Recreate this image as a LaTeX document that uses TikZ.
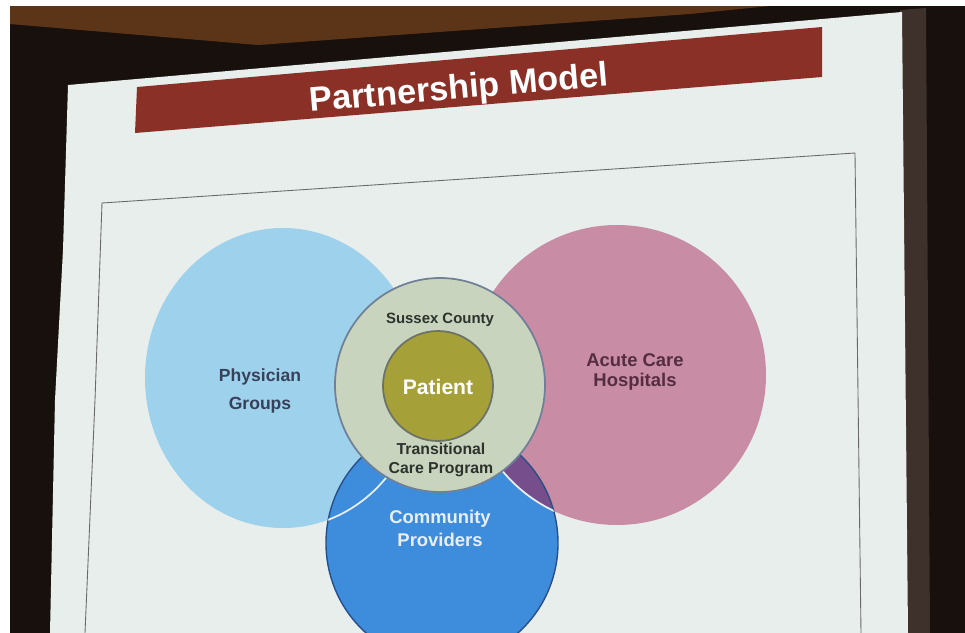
\documentclass[tikz,border=0pt]{standalone}
\usepackage{fontspec}
\setmainfont{Liberation Sans}
\usepackage{tikz}
\usetikzlibrary{positioning}

\definecolor{roomdark}{RGB}{24,16,13}
\definecolor{ceiling}{RGB}{92,52,24}
\definecolor{framegray}{RGB}{62,48,43}
\definecolor{screenwhite}{RGB}{232,238,236}
\definecolor{titlered}{RGB}{138,48,38}
\definecolor{boxgray}{RGB}{105,105,105}
\definecolor{physblue}{RGB}{158,210,236}
\definecolor{acutepink}{RGB}{200,140,165}
\definecolor{commblue}{RGB}{62,140,220}
\definecolor{commedge}{RGB}{40,80,135}
\definecolor{lensviolet}{RGB}{118,78,140}
\definecolor{ringwhite}{RGB}{232,238,245}
\definecolor{countygreen}{RGB}{200,212,190}
\definecolor{countyedge}{RGB}{112,128,150}
\definecolor{patientolive}{RGB}{166,160,56}
\definecolor{patientedge}{RGB}{108,114,104}
\definecolor{physink}{RGB}{55,65,90}
\definecolor{acuteink}{RGB}{85,45,65}
\definecolor{countyink}{RGB}{45,50,45}

\tikzset{
	lbl/.style={align=center, inner sep=0pt},
	ring/.style={line width=1pt}
}

\begin{document}
\begin{tikzpicture}[x=0.02cm, y=-0.02cm]
	\useasboundingbox (0,0) rectangle (965,633);
	% room around the screen
	\fill[roomdark] (0,0) rectangle (965,633);
	\fill[ceiling] (10,6) -- (770,6) -- (690,14) -- (258,45) -- (10,24) -- cycle;
	\fill[white] (0,0) rectangle (965,6);
	\fill[white] (0,0) rectangle (10,633);
	\fill[framegray] (900,10) -- (926,8) -- (930,633) -- (906,633) -- cycle;
	
	% the slide itself
	\fill[screenwhite] (68,85) -- (902,12) -- (908,633) -- (50,633) -- (55,400) -- (63,250) -- cycle;
	\fill[titlered] (137,87) -- (822,27) -- (822,77) -- (135,133) -- cycle;
	\node[text=white, font=\bfseries\fontsize{19.5}{22}\selectfont, rotate=5] (title) at (459,90) {Partnership Model};
	\draw[boxgray, line width=0.5pt] (85,633) -- (95,400) -- (102,203) -- (855,153) -- (861,633);
	
	% centres of the circles
	\coordinate (physc) at (283,378);
	\coordinate (acutec) at (617,375);
	\coordinate (commc) at (442,543);
	\coordinate (countyc) at (440,385);
	\coordinate (patc) at (438,386);
	
	\fill[physblue] (physc) ellipse [x radius=138, y radius=150];
	\fill[acutepink] (acutec) ellipse [x radius=149, y radius=150];
	\fill[commblue] (commc) ellipse [x radius=116, y radius=119];
	\begin{scope}
		\clip (acutec) ellipse [x radius=149, y radius=150];
		\fill[lensviolet] (commc) ellipse [x radius=116, y radius=119];
	\end{scope}
	\draw[commedge, line width=0.8pt] (commc) ellipse [x radius=116, y radius=119];
	\begin{scope}
		\clip (commc) ellipse [x radius=116, y radius=119];
		\draw[ringwhite, ring] (physc) ellipse [x radius=138, y radius=150];
		\draw[ringwhite, ring] (acutec) ellipse [x radius=149, y radius=150];
	\end{scope}
	\filldraw[fill=countygreen, draw=countyedge, ring] (countyc) ellipse [x radius=105, y radius=107];
	\filldraw[fill=patientolive, draw=patientedge, ring] (patc) circle [radius=55];
	
	% labels
	\node[lbl, text=physink, font=\bfseries\fontsize{10}{15.5}\selectfont] (phys) at (260,391) {Physician\\Groups};
	\node[lbl, text=acuteink, font=\bfseries\fontsize{10.5}{11.8}\selectfont] (acute) at (635,372) {Acute Care\\Hospitals};
	\node[lbl, text=countyink, font=\bfseries\fontsize{8.5}{10}\selectfont] (county) at (440,320) {Sussex County};
	\node[lbl, text=white, font=\bfseries\fontsize{12}{14}\selectfont] (patient) at (438,387) {Patient};
	\node[lbl, text=countyink, font=\bfseries\fontsize{9}{11.3}\selectfont] (tcp) at (441,460) {Transitional\\Care Program};
	\node[lbl, text=ringwhite, font=\bfseries\fontsize{10.5}{13}\selectfont] (comm) at (440,528) {Community\\Providers};
\end{tikzpicture}
\end{document}
